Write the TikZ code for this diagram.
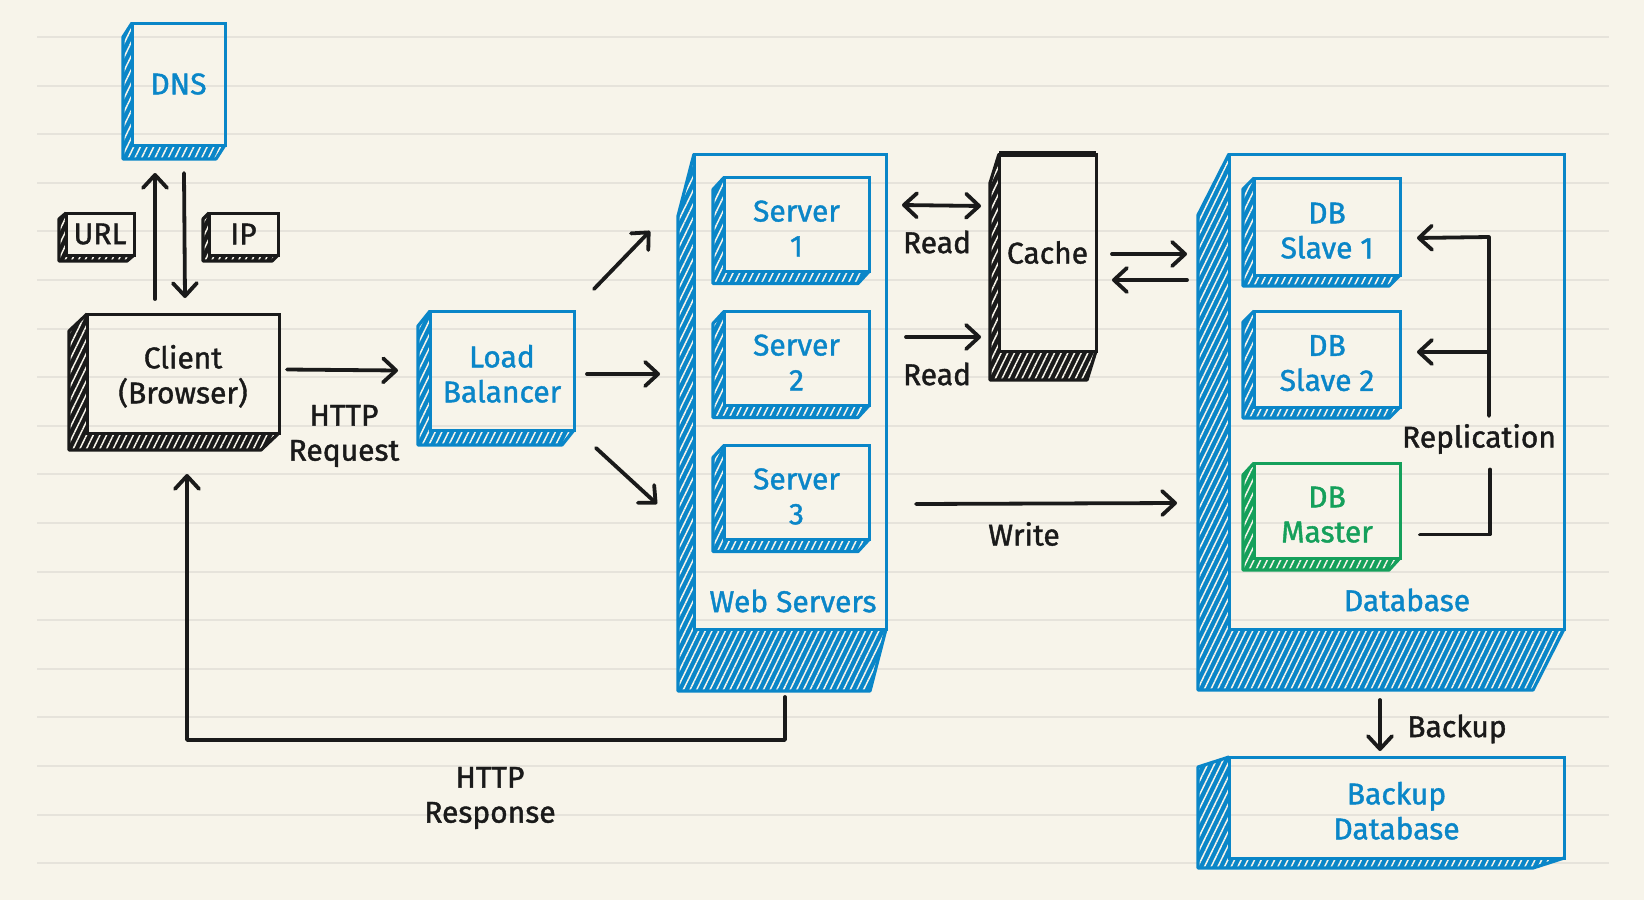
\documentclass[tikz,border=0pt]{standalone}
\usepackage{fontspec}
\setmainfont{Fira Sans}[RawFeature={embolden=1.3}]
\usetikzlibrary{arrows.meta,calc,patterns.meta}
\definecolor{bg}{HTML}{F7F4EA}
\definecolor{rule}{HTML}{E6E3DB}
\definecolor{cblue}{HTML}{0A86C8}
\definecolor{cgreen}{HTML}{15A05B}
\definecolor{ink}{HTML}{1A1A1A}
\tikzset{
  face/.style={draw=#1, text=#1, line width=1.5pt, inner sep=0pt, outer sep=0pt, align=center, font=\fontsize{15}{17.5}\selectfont},
  two/.style={text height=32pt},
  lbl/.style={text=ink, align=center, font=\fontsize{15}{17.5}\selectfont, inner sep=1pt},
  arr/.style={draw=ink, line width=1.9pt, line cap=round, line join=round, ->},
  plain/.style={draw=ink, line width=1.9pt, line cap=round, line join=round},
  hatch/.style={pattern={Lines[angle=64,distance=3pt,line width=0.75pt]}, pattern color=bg},
}
\newcommand\depthbox[4]{%
  \fill[#4, postaction={hatch}]
    (#1.north west) -- ++(#2,#3) -- ($(#1.south west)+(#2,#3)$) -- ($(#1.south east)+(#2,#3)$) -- (#1.south east) -- (#1.south west) -- cycle;
  \draw[#4, line width=1.6pt, line join=round]
    (#1.north west) -- ++(#2,#3) -- ($(#1.south west)+(#2,#3)$) -- ($(#1.south east)+(#2,#3)$) -- (#1.south east);
  \draw[#4, line width=1.5pt] (#1.north west) rectangle (#1.south east);
}
\begin{document}
\begin{tikzpicture}[x=0.5pt,y=-0.5pt,>={Straight Barb[length=6.5pt,width=12pt,round]}]
\useasboundingbox (0,0) rectangle (1644,900);
\fill[bg] (0,0) rectangle (1644,900);
\foreach \i in {0,...,17} \draw[rule, line width=1pt] (37,{37+48.6*\i}) -- (1609,{37+48.6*\i});

% boxes
\node[face=cblue, minimum width=46.5pt, minimum height=61pt] (dns) at (178.5,84) {DNS};
\depthbox{dns}{-9}{14}{cblue}
\node[face=ink, minimum width=34pt, minimum height=21pt] (url) at (100,234) {URL};
\depthbox{url}{-7}{6}{ink}
\node[face=ink, minimum width=34.5pt, minimum height=21pt] (ip) at (243.5,234) {IP};
\depthbox{ip}{-6}{6}{ink}
\node[face=ink, two, minimum width=96pt, minimum height=59.5pt] (client) at (183,373.5) {Client\\(Browser)};
\depthbox{client}{-18}{17}{ink}
\node[face=cblue, two, minimum width=72pt, minimum height=59.5pt] (lb) at (502,370.5) {Load\\Balancer};
\depthbox{lb}{-12}{15}{cblue}

\node[face=cblue, minimum width=96pt, minimum height=237.5pt] (web) at (790,391.5) {};
\depthbox{web}{-16}{62}{cblue}
\node[face=cblue, two, minimum width=72.5pt, minimum height=47pt] (s1) at (796.5,224.5) {Server\\1};
\depthbox{s1}{-11}{12}{cblue}
\node[face=cblue, two, minimum width=72.5pt, minimum height=47pt] (s2) at (796.5,358.5) {Server\\2};
\depthbox{s2}{-11}{12}{cblue}
\node[face=cblue, two, minimum width=72.5pt, minimum height=47pt] (s3) at (796.5,492.5) {Server\\3};
\depthbox{s3}{-11}{12}{cblue}
\node[lbl, text=cblue] (webl) at (793,601) {Web Servers};

\node[face=ink, minimum width=48.5pt, minimum height=98.5pt] (cache) at (1047.5,252.5) {Cache};
\depthbox{cache}{-9}{29}{ink}
\draw[ink, line width=3pt] (cache.north west) -- (cache.north east);

\node[face=cblue, minimum width=167.5pt, minimum height=237.5pt] (db) at (1396.5,391.5) {};
\depthbox{db}{-31}{61}{cblue}
\node[face=cblue, two, minimum width=73pt, minimum height=48.5pt] (sl1) at (1327,226.5) {DB\\Slave 1};
\depthbox{sl1}{-11}{11}{cblue}
\node[face=cblue, two, minimum width=73pt, minimum height=48pt] (sl2) at (1327,359) {DB\\Slave 2};
\depthbox{sl2}{-11}{11}{cblue}
\node[face=cgreen, two, minimum width=73pt, minimum height=47.5pt] (master) at (1327,510.5) {DB\\Master};
\depthbox{master}{-11}{12}{cgreen}
\node[lbl, text=cblue] (dbl) at (1407,600) {Database};

\node[face=cblue, two, minimum width=167.5pt, minimum height=50.5pt] (bk) at (1396.5,807.5) {Backup\\Database};
\depthbox{bk}{-31}{10}{cblue}

% labels
\node[lbl] (req) at (344,436) {HTTP\\Request};
\node[lbl] (read1) at (937,242) {Read};
\node[lbl] (read2) at (937,374) {Read};
\node[lbl] (write) at (1024,534) {Write};
\node[lbl] (resp) at (490,798) {HTTP\\Response};
\node[lbl] (repl) at (1479,439) {Replication};
\node[lbl] (bkl) at (1457,729) {Backup};

% connectors
\draw[arr] ([shift={(-28,-15)}]client.north) -- ([shift={(-23.5,28)}]dns.south);
\draw[arr] ([shift={(5.5,28)}]dns.south) -- ([shift={(2,-16)}]client.north);
\draw[arr] ([shift={(8,-4)}]client.east) -- ([shift={(-32,0)}]lb.west);
\draw[arr] ([shift={(20,-81.5)}]lb.east) -- ([shift={(-44,-160.5)}]web.west);
\draw[arr] ([shift={(13,3.5)}]lb.east) -- ([shift={(-34,-17.5)}]web.west);
\draw[arr] ([shift={(22,77.5)}]lb.east) -- ([shift={(-37,112.5)}]web.west);
\draw[arr, <->] ([shift={(33,-19.5)}]s1.east) -- ([shift={(-18,-46.5)}]cache.west);
\draw[arr] ([shift={(37,-21.5)}]s2.east) -- ([shift={(-18,84.5)}]cache.west);
\draw[arr] ([shift={(16,1.5)}]cache.east) -- ([shift={(-42,-137.5)}]db.west);
\draw[arr] ([shift={(-42,-111.5)}]db.west) -- ([shift={(16,27.5)}]cache.east);
\draw[arr] ([shift={(47,11.5)}]s3.east) -- ([shift={(-52,111.5)}]db.west);
\draw[arr] ([shift={(-5,68)}]web.south) -- ++(0,43) -| ([shift={(4,41)}]client.south);
\coordinate (rtop) at (1489,237);
\coordinate (rmid) at (1489,416);
\draw[plain] ([shift={(20,24)}]master.east) -- ++(70,0) -- ++(0,-65);
\draw[arr] (rmid) -- (rtop) -- ([shift={(17,11.5)}]sl1.east);
\draw[arr] (rtop |- sl2.east) ++(0,-7) -- ([shift={(17,-7)}]sl2.east);
\draw[arr] ([shift={(-16.5,71)}]db.south) -- ([shift={(-16.5,-6)}]bk.north);
\end{tikzpicture}
\end{document}
